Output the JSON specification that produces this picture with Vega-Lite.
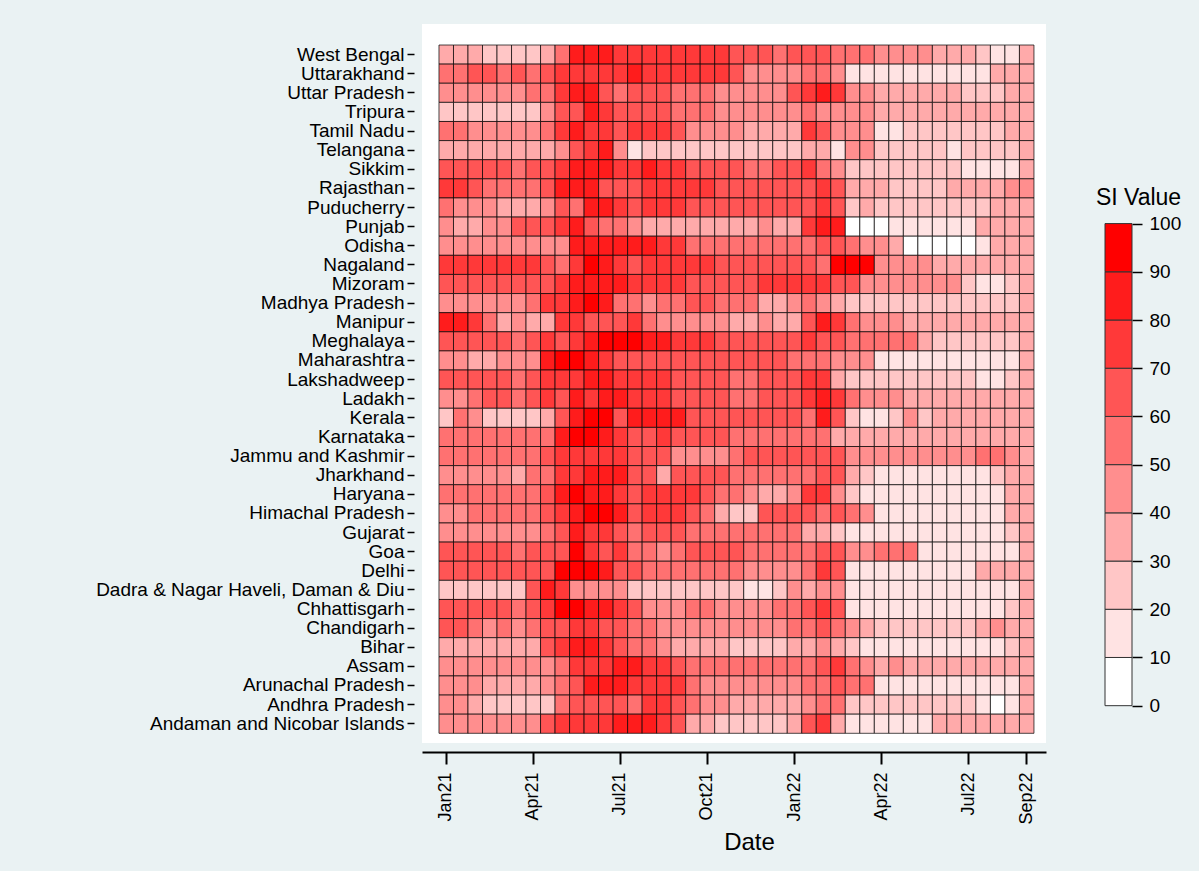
{
"$schema":"https://vega.github.io/schema/vega-lite/v6.json",
"background":"#eaf2f3",
"padding":{"left":95,"top":24,"right":18,"bottom":16},
"spacing":49,
"config":{"view":{"stroke":null},"font":"Liberation Sans","axis":{"labelColor":"#000","titleColor":"#000","tickColor":"#000","domainColor":"#000","labelFont":"Liberation Sans","titleFont":"Liberation Sans","titleFontWeight":"normal","grid":false}},
"datasets":{
"states":[{"r":0,"s":"West Bengal"},{"r":1,"s":"Uttarakhand"},{"r":2,"s":"Uttar Pradesh"},{"r":3,"s":"Tripura"},{"r":4,"s":"Tamil Nadu"},{"r":5,"s":"Telangana"},{"r":6,"s":"Sikkim"},{"r":7,"s":"Rajasthan"},{"r":8,"s":"Puducherry"},{"r":9,"s":"Punjab"},{"r":10,"s":"Odisha"},{"r":11,"s":"Nagaland"},{"r":12,"s":"Mizoram"},{"r":13,"s":"Madhya Pradesh"},{"r":14,"s":"Manipur"},{"r":15,"s":"Meghalaya"},{"r":16,"s":"Maharashtra"},{"r":17,"s":"Lakshadweep"},{"r":18,"s":"Ladakh"},{"r":19,"s":"Kerala"},{"r":20,"s":"Karnataka"},{"r":21,"s":"Jammu and Kashmir"},{"r":22,"s":"Jharkhand"},{"r":23,"s":"Haryana"},{"r":24,"s":"Himachal Pradesh"},{"r":25,"s":"Gujarat"},{"r":26,"s":"Goa"},{"r":27,"s":"Delhi"},{"r":28,"s":"Dadra & Nagar Haveli, Daman & Diu"},{"r":29,"s":"Chhattisgarh"},{"r":30,"s":"Chandigarh"},{"r":31,"s":"Bihar"},{"r":32,"s":"Assam"},{"r":33,"s":"Arunachal Pradesh"},{"r":34,"s":"Andhra Pradesh"},{"r":35,"s":"Andaman and Nicobar Islands"}],
"dates":[{"i":0,"d":"2021-01-01"},{"i":1,"d":"2021-01-16"},{"i":2,"d":"2021-02-01"},{"i":3,"d":"2021-02-16"},{"i":4,"d":"2021-03-01"},{"i":5,"d":"2021-03-16"},{"i":6,"d":"2021-04-01"},{"i":7,"d":"2021-04-16"},{"i":8,"d":"2021-05-01"},{"i":9,"d":"2021-05-16"},{"i":10,"d":"2021-06-01"},{"i":11,"d":"2021-06-16"},{"i":12,"d":"2021-07-01"},{"i":13,"d":"2021-07-16"},{"i":14,"d":"2021-08-01"},{"i":15,"d":"2021-08-16"},{"i":16,"d":"2021-09-01"},{"i":17,"d":"2021-09-16"},{"i":18,"d":"2021-10-01"},{"i":19,"d":"2021-10-16"},{"i":20,"d":"2021-11-01"},{"i":21,"d":"2021-11-16"},{"i":22,"d":"2021-12-01"},{"i":23,"d":"2021-12-16"},{"i":24,"d":"2022-01-01"},{"i":25,"d":"2022-01-16"},{"i":26,"d":"2022-02-01"},{"i":27,"d":"2022-02-16"},{"i":28,"d":"2022-03-01"},{"i":29,"d":"2022-03-16"},{"i":30,"d":"2022-04-01"},{"i":31,"d":"2022-04-16"},{"i":32,"d":"2022-05-01"},{"i":33,"d":"2022-05-16"},{"i":34,"d":"2022-06-01"},{"i":35,"d":"2022-06-16"},{"i":36,"d":"2022-07-01"},{"i":37,"d":"2022-07-16"},{"i":38,"d":"2022-08-01"},{"i":39,"d":"2022-08-16"},{"i":40,"d":"2022-09-01"}],
"bins":[{"lo":0,"hi":10,"v":5},{"lo":10,"hi":20,"v":15},{"lo":20,"hi":30,"v":25},{"lo":30,"hi":40,"v":35},{"lo":40,"hi":50,"v":45},{"lo":50,"hi":60,"v":55},{"lo":60,"hi":70,"v":65},{"lo":70,"hi":80,"v":75},{"lo":80,"hi":90,"v":85},{"lo":90,"hi":100,"v":95}],
"cells":[
{"r":0,"i":0,"v":35},{"r":0,"i":1,"v":35},{"r":0,"i":2,"v":35},{"r":0,"i":3,"v":25},{"r":0,"i":4,"v":25},{"r":0,"i":5,"v":25},{"r":0,"i":6,"v":25},{"r":0,"i":7,"v":35},{"r":0,"i":8,"v":55},{"r":0,"i":9,"v":85},{"r":0,"i":10,"v":85},{"r":0,"i":11,"v":85},{"r":0,"i":12,"v":75},{"r":0,"i":13,"v":75},{"r":0,"i":14,"v":75},{"r":0,"i":15,"v":75},{"r":0,"i":16,"v":75},{"r":0,"i":17,"v":75},{"r":0,"i":18,"v":75},{"r":0,"i":19,"v":75},{"r":0,"i":20,"v":65},{"r":0,"i":21,"v":65},{"r":0,"i":22,"v":65},{"r":0,"i":23,"v":55},{"r":0,"i":24,"v":65},{"r":0,"i":25,"v":65},{"r":0,"i":26,"v":65},{"r":0,"i":27,"v":55},{"r":0,"i":28,"v":55},{"r":0,"i":29,"v":55},{"r":0,"i":30,"v":45},{"r":0,"i":31,"v":45},{"r":0,"i":32,"v":45},{"r":0,"i":33,"v":45},{"r":0,"i":34,"v":35},{"r":0,"i":35,"v":35},{"r":0,"i":36,"v":35},{"r":0,"i":37,"v":25},{"r":0,"i":38,"v":15},{"r":0,"i":39,"v":15},{"r":0,"i":40,"v":35},
{"r":1,"i":0,"v":55},{"r":1,"i":1,"v":55},{"r":1,"i":2,"v":65},{"r":1,"i":3,"v":65},{"r":1,"i":4,"v":55},{"r":1,"i":5,"v":65},{"r":1,"i":6,"v":55},{"r":1,"i":7,"v":65},{"r":1,"i":8,"v":75},{"r":1,"i":9,"v":75},{"r":1,"i":10,"v":75},{"r":1,"i":11,"v":75},{"r":1,"i":12,"v":75},{"r":1,"i":13,"v":85},{"r":1,"i":14,"v":75},{"r":1,"i":15,"v":75},{"r":1,"i":16,"v":75},{"r":1,"i":17,"v":75},{"r":1,"i":18,"v":75},{"r":1,"i":19,"v":75},{"r":1,"i":20,"v":65},{"r":1,"i":21,"v":45},{"r":1,"i":22,"v":45},{"r":1,"i":23,"v":45},{"r":1,"i":24,"v":45},{"r":1,"i":25,"v":55},{"r":1,"i":26,"v":55},{"r":1,"i":27,"v":45},{"r":1,"i":28,"v":15},{"r":1,"i":29,"v":15},{"r":1,"i":30,"v":15},{"r":1,"i":31,"v":15},{"r":1,"i":32,"v":15},{"r":1,"i":33,"v":15},{"r":1,"i":34,"v":15},{"r":1,"i":35,"v":15},{"r":1,"i":36,"v":15},{"r":1,"i":37,"v":15},{"r":1,"i":38,"v":35},{"r":1,"i":39,"v":35},{"r":1,"i":40,"v":35},
{"r":2,"i":0,"v":45},{"r":2,"i":1,"v":45},{"r":2,"i":2,"v":45},{"r":2,"i":3,"v":45},{"r":2,"i":4,"v":45},{"r":2,"i":5,"v":45},{"r":2,"i":6,"v":55},{"r":2,"i":7,"v":55},{"r":2,"i":8,"v":75},{"r":2,"i":9,"v":85},{"r":2,"i":10,"v":85},{"r":2,"i":11,"v":65},{"r":2,"i":12,"v":55},{"r":2,"i":13,"v":65},{"r":2,"i":14,"v":65},{"r":2,"i":15,"v":65},{"r":2,"i":16,"v":55},{"r":2,"i":17,"v":55},{"r":2,"i":18,"v":55},{"r":2,"i":19,"v":45},{"r":2,"i":20,"v":45},{"r":2,"i":21,"v":45},{"r":2,"i":22,"v":45},{"r":2,"i":23,"v":45},{"r":2,"i":24,"v":65},{"r":2,"i":25,"v":75},{"r":2,"i":26,"v":85},{"r":2,"i":27,"v":75},{"r":2,"i":28,"v":45},{"r":2,"i":29,"v":45},{"r":2,"i":30,"v":35},{"r":2,"i":31,"v":35},{"r":2,"i":32,"v":35},{"r":2,"i":33,"v":35},{"r":2,"i":34,"v":35},{"r":2,"i":35,"v":35},{"r":2,"i":36,"v":25},{"r":2,"i":37,"v":25},{"r":2,"i":38,"v":25},{"r":2,"i":39,"v":35},{"r":2,"i":40,"v":35},
{"r":3,"i":0,"v":25},{"r":3,"i":1,"v":25},{"r":3,"i":2,"v":25},{"r":3,"i":3,"v":25},{"r":3,"i":4,"v":25},{"r":3,"i":5,"v":25},{"r":3,"i":6,"v":25},{"r":3,"i":7,"v":45},{"r":3,"i":8,"v":65},{"r":3,"i":9,"v":65},{"r":3,"i":10,"v":85},{"r":3,"i":11,"v":75},{"r":3,"i":12,"v":65},{"r":3,"i":13,"v":65},{"r":3,"i":14,"v":65},{"r":3,"i":15,"v":65},{"r":3,"i":16,"v":55},{"r":3,"i":17,"v":55},{"r":3,"i":18,"v":55},{"r":3,"i":19,"v":45},{"r":3,"i":20,"v":45},{"r":3,"i":21,"v":45},{"r":3,"i":22,"v":45},{"r":3,"i":23,"v":45},{"r":3,"i":24,"v":45},{"r":3,"i":25,"v":55},{"r":3,"i":26,"v":45},{"r":3,"i":27,"v":45},{"r":3,"i":28,"v":45},{"r":3,"i":29,"v":45},{"r":3,"i":30,"v":35},{"r":3,"i":31,"v":35},{"r":3,"i":32,"v":35},{"r":3,"i":33,"v":35},{"r":3,"i":34,"v":35},{"r":3,"i":35,"v":35},{"r":3,"i":36,"v":35},{"r":3,"i":37,"v":35},{"r":3,"i":38,"v":35},{"r":3,"i":39,"v":35},{"r":3,"i":40,"v":35},
{"r":4,"i":0,"v":55},{"r":4,"i":1,"v":55},{"r":4,"i":2,"v":45},{"r":4,"i":3,"v":45},{"r":4,"i":4,"v":45},{"r":4,"i":5,"v":45},{"r":4,"i":6,"v":45},{"r":4,"i":7,"v":55},{"r":4,"i":8,"v":75},{"r":4,"i":9,"v":85},{"r":4,"i":10,"v":75},{"r":4,"i":11,"v":75},{"r":4,"i":12,"v":65},{"r":4,"i":13,"v":75},{"r":4,"i":14,"v":75},{"r":4,"i":15,"v":75},{"r":4,"i":16,"v":65},{"r":4,"i":17,"v":45},{"r":4,"i":18,"v":45},{"r":4,"i":19,"v":45},{"r":4,"i":20,"v":45},{"r":4,"i":21,"v":35},{"r":4,"i":22,"v":35},{"r":4,"i":23,"v":35},{"r":4,"i":24,"v":35},{"r":4,"i":25,"v":75},{"r":4,"i":26,"v":65},{"r":4,"i":27,"v":45},{"r":4,"i":28,"v":45},{"r":4,"i":29,"v":45},{"r":4,"i":30,"v":15},{"r":4,"i":31,"v":15},{"r":4,"i":32,"v":25},{"r":4,"i":33,"v":25},{"r":4,"i":34,"v":25},{"r":4,"i":35,"v":25},{"r":4,"i":36,"v":25},{"r":4,"i":37,"v":25},{"r":4,"i":38,"v":25},{"r":4,"i":39,"v":35},{"r":4,"i":40,"v":35},
{"r":5,"i":0,"v":35},{"r":5,"i":1,"v":35},{"r":5,"i":2,"v":35},{"r":5,"i":3,"v":35},{"r":5,"i":4,"v":35},{"r":5,"i":5,"v":35},{"r":5,"i":6,"v":35},{"r":5,"i":7,"v":35},{"r":5,"i":8,"v":45},{"r":5,"i":9,"v":65},{"r":5,"i":10,"v":75},{"r":5,"i":11,"v":85},{"r":5,"i":12,"v":45},{"r":5,"i":13,"v":15},{"r":5,"i":14,"v":25},{"r":5,"i":15,"v":25},{"r":5,"i":16,"v":25},{"r":5,"i":17,"v":25},{"r":5,"i":18,"v":25},{"r":5,"i":19,"v":25},{"r":5,"i":20,"v":25},{"r":5,"i":21,"v":25},{"r":5,"i":22,"v":25},{"r":5,"i":23,"v":25},{"r":5,"i":24,"v":25},{"r":5,"i":25,"v":35},{"r":5,"i":26,"v":35},{"r":5,"i":27,"v":15},{"r":5,"i":28,"v":45},{"r":5,"i":29,"v":45},{"r":5,"i":30,"v":25},{"r":5,"i":31,"v":25},{"r":5,"i":32,"v":25},{"r":5,"i":33,"v":25},{"r":5,"i":34,"v":25},{"r":5,"i":35,"v":15},{"r":5,"i":36,"v":25},{"r":5,"i":37,"v":25},{"r":5,"i":38,"v":25},{"r":5,"i":39,"v":25},{"r":5,"i":40,"v":35},
{"r":6,"i":0,"v":65},{"r":6,"i":1,"v":65},{"r":6,"i":2,"v":65},{"r":6,"i":3,"v":65},{"r":6,"i":4,"v":65},{"r":6,"i":5,"v":55},{"r":6,"i":6,"v":65},{"r":6,"i":7,"v":65},{"r":6,"i":8,"v":75},{"r":6,"i":9,"v":85},{"r":6,"i":10,"v":85},{"r":6,"i":11,"v":85},{"r":6,"i":12,"v":75},{"r":6,"i":13,"v":75},{"r":6,"i":14,"v":85},{"r":6,"i":15,"v":75},{"r":6,"i":16,"v":75},{"r":6,"i":17,"v":65},{"r":6,"i":18,"v":65},{"r":6,"i":19,"v":65},{"r":6,"i":20,"v":65},{"r":6,"i":21,"v":55},{"r":6,"i":22,"v":55},{"r":6,"i":23,"v":65},{"r":6,"i":24,"v":65},{"r":6,"i":25,"v":75},{"r":6,"i":26,"v":55},{"r":6,"i":27,"v":45},{"r":6,"i":28,"v":25},{"r":6,"i":29,"v":25},{"r":6,"i":30,"v":25},{"r":6,"i":31,"v":25},{"r":6,"i":32,"v":25},{"r":6,"i":33,"v":25},{"r":6,"i":34,"v":25},{"r":6,"i":35,"v":25},{"r":6,"i":36,"v":15},{"r":6,"i":37,"v":15},{"r":6,"i":38,"v":15},{"r":6,"i":39,"v":15},{"r":6,"i":40,"v":35},
{"r":7,"i":0,"v":75},{"r":7,"i":1,"v":75},{"r":7,"i":2,"v":65},{"r":7,"i":3,"v":55},{"r":7,"i":4,"v":55},{"r":7,"i":5,"v":55},{"r":7,"i":6,"v":55},{"r":7,"i":7,"v":65},{"r":7,"i":8,"v":85},{"r":7,"i":9,"v":85},{"r":7,"i":10,"v":85},{"r":7,"i":11,"v":65},{"r":7,"i":12,"v":65},{"r":7,"i":13,"v":65},{"r":7,"i":14,"v":75},{"r":7,"i":15,"v":75},{"r":7,"i":16,"v":75},{"r":7,"i":17,"v":75},{"r":7,"i":18,"v":75},{"r":7,"i":19,"v":65},{"r":7,"i":20,"v":65},{"r":7,"i":21,"v":65},{"r":7,"i":22,"v":65},{"r":7,"i":23,"v":65},{"r":7,"i":24,"v":65},{"r":7,"i":25,"v":65},{"r":7,"i":26,"v":75},{"r":7,"i":27,"v":65},{"r":7,"i":28,"v":35},{"r":7,"i":29,"v":35},{"r":7,"i":30,"v":35},{"r":7,"i":31,"v":25},{"r":7,"i":32,"v":25},{"r":7,"i":33,"v":25},{"r":7,"i":34,"v":25},{"r":7,"i":35,"v":35},{"r":7,"i":36,"v":35},{"r":7,"i":37,"v":35},{"r":7,"i":38,"v":35},{"r":7,"i":39,"v":45},{"r":7,"i":40,"v":45},
{"r":8,"i":0,"v":55},{"r":8,"i":1,"v":45},{"r":8,"i":2,"v":45},{"r":8,"i":3,"v":45},{"r":8,"i":4,"v":35},{"r":8,"i":5,"v":35},{"r":8,"i":6,"v":35},{"r":8,"i":7,"v":45},{"r":8,"i":8,"v":65},{"r":8,"i":9,"v":55},{"r":8,"i":10,"v":85},{"r":8,"i":11,"v":85},{"r":8,"i":12,"v":75},{"r":8,"i":13,"v":65},{"r":8,"i":14,"v":75},{"r":8,"i":15,"v":75},{"r":8,"i":16,"v":75},{"r":8,"i":17,"v":65},{"r":8,"i":18,"v":65},{"r":8,"i":19,"v":65},{"r":8,"i":20,"v":65},{"r":8,"i":21,"v":65},{"r":8,"i":22,"v":65},{"r":8,"i":23,"v":65},{"r":8,"i":24,"v":65},{"r":8,"i":25,"v":65},{"r":8,"i":26,"v":75},{"r":8,"i":27,"v":65},{"r":8,"i":28,"v":25},{"r":8,"i":29,"v":35},{"r":8,"i":30,"v":25},{"r":8,"i":31,"v":25},{"r":8,"i":32,"v":25},{"r":8,"i":33,"v":25},{"r":8,"i":34,"v":25},{"r":8,"i":35,"v":25},{"r":8,"i":36,"v":25},{"r":8,"i":37,"v":25},{"r":8,"i":38,"v":35},{"r":8,"i":39,"v":35},{"r":8,"i":40,"v":35},
{"r":9,"i":0,"v":45},{"r":9,"i":1,"v":35},{"r":9,"i":2,"v":35},{"r":9,"i":3,"v":45},{"r":9,"i":4,"v":45},{"r":9,"i":5,"v":65},{"r":9,"i":6,"v":65},{"r":9,"i":7,"v":65},{"r":9,"i":8,"v":75},{"r":9,"i":9,"v":85},{"r":9,"i":10,"v":65},{"r":9,"i":11,"v":55},{"r":9,"i":12,"v":55},{"r":9,"i":13,"v":45},{"r":9,"i":14,"v":35},{"r":9,"i":15,"v":35},{"r":9,"i":16,"v":35},{"r":9,"i":17,"v":35},{"r":9,"i":18,"v":35},{"r":9,"i":19,"v":35},{"r":9,"i":20,"v":35},{"r":9,"i":21,"v":35},{"r":9,"i":22,"v":45},{"r":9,"i":23,"v":35},{"r":9,"i":24,"v":35},{"r":9,"i":25,"v":75},{"r":9,"i":26,"v":85},{"r":9,"i":27,"v":85},{"r":9,"i":28,"v":5},{"r":9,"i":29,"v":5},{"r":9,"i":30,"v":5},{"r":9,"i":31,"v":15},{"r":9,"i":32,"v":15},{"r":9,"i":33,"v":15},{"r":9,"i":34,"v":15},{"r":9,"i":35,"v":15},{"r":9,"i":36,"v":15},{"r":9,"i":37,"v":35},{"r":9,"i":38,"v":35},{"r":9,"i":39,"v":35},{"r":9,"i":40,"v":35},
{"r":10,"i":0,"v":45},{"r":10,"i":1,"v":45},{"r":10,"i":2,"v":45},{"r":10,"i":3,"v":45},{"r":10,"i":4,"v":45},{"r":10,"i":5,"v":45},{"r":10,"i":6,"v":45},{"r":10,"i":7,"v":45},{"r":10,"i":8,"v":45},{"r":10,"i":9,"v":85},{"r":10,"i":10,"v":85},{"r":10,"i":11,"v":85},{"r":10,"i":12,"v":85},{"r":10,"i":13,"v":85},{"r":10,"i":14,"v":85},{"r":10,"i":15,"v":75},{"r":10,"i":16,"v":75},{"r":10,"i":17,"v":55},{"r":10,"i":18,"v":55},{"r":10,"i":19,"v":55},{"r":10,"i":20,"v":55},{"r":10,"i":21,"v":55},{"r":10,"i":22,"v":55},{"r":10,"i":23,"v":55},{"r":10,"i":24,"v":55},{"r":10,"i":25,"v":55},{"r":10,"i":26,"v":65},{"r":10,"i":27,"v":65},{"r":10,"i":28,"v":55},{"r":10,"i":29,"v":45},{"r":10,"i":30,"v":45},{"r":10,"i":31,"v":35},{"r":10,"i":32,"v":5},{"r":10,"i":33,"v":5},{"r":10,"i":34,"v":5},{"r":10,"i":35,"v":5},{"r":10,"i":36,"v":5},{"r":10,"i":37,"v":15},{"r":10,"i":38,"v":35},{"r":10,"i":39,"v":35},{"r":10,"i":40,"v":35},
{"r":11,"i":0,"v":75},{"r":11,"i":1,"v":75},{"r":11,"i":2,"v":75},{"r":11,"i":3,"v":75},{"r":11,"i":4,"v":75},{"r":11,"i":5,"v":75},{"r":11,"i":6,"v":75},{"r":11,"i":7,"v":65},{"r":11,"i":8,"v":55},{"r":11,"i":9,"v":75},{"r":11,"i":10,"v":95},{"r":11,"i":11,"v":85},{"r":11,"i":12,"v":75},{"r":11,"i":13,"v":65},{"r":11,"i":14,"v":75},{"r":11,"i":15,"v":75},{"r":11,"i":16,"v":75},{"r":11,"i":17,"v":75},{"r":11,"i":18,"v":75},{"r":11,"i":19,"v":65},{"r":11,"i":20,"v":65},{"r":11,"i":21,"v":65},{"r":11,"i":22,"v":65},{"r":11,"i":23,"v":65},{"r":11,"i":24,"v":65},{"r":11,"i":25,"v":65},{"r":11,"i":26,"v":55},{"r":11,"i":27,"v":95},{"r":11,"i":28,"v":95},{"r":11,"i":29,"v":95},{"r":11,"i":30,"v":45},{"r":11,"i":31,"v":45},{"r":11,"i":32,"v":45},{"r":11,"i":33,"v":45},{"r":11,"i":34,"v":35},{"r":11,"i":35,"v":35},{"r":11,"i":36,"v":35},{"r":11,"i":37,"v":35},{"r":11,"i":38,"v":35},{"r":11,"i":39,"v":35},{"r":11,"i":40,"v":35},
{"r":12,"i":0,"v":65},{"r":12,"i":1,"v":65},{"r":12,"i":2,"v":65},{"r":12,"i":3,"v":65},{"r":12,"i":4,"v":65},{"r":12,"i":5,"v":65},{"r":12,"i":6,"v":65},{"r":12,"i":7,"v":65},{"r":12,"i":8,"v":75},{"r":12,"i":9,"v":85},{"r":12,"i":10,"v":85},{"r":12,"i":11,"v":85},{"r":12,"i":12,"v":85},{"r":12,"i":13,"v":75},{"r":12,"i":14,"v":75},{"r":12,"i":15,"v":75},{"r":12,"i":16,"v":75},{"r":12,"i":17,"v":65},{"r":12,"i":18,"v":65},{"r":12,"i":19,"v":65},{"r":12,"i":20,"v":65},{"r":12,"i":21,"v":65},{"r":12,"i":22,"v":75},{"r":12,"i":23,"v":75},{"r":12,"i":24,"v":75},{"r":12,"i":25,"v":75},{"r":12,"i":26,"v":75},{"r":12,"i":27,"v":65},{"r":12,"i":28,"v":65},{"r":12,"i":29,"v":45},{"r":12,"i":30,"v":45},{"r":12,"i":31,"v":45},{"r":12,"i":32,"v":45},{"r":12,"i":33,"v":45},{"r":12,"i":34,"v":45},{"r":12,"i":35,"v":45},{"r":12,"i":36,"v":25},{"r":12,"i":37,"v":15},{"r":12,"i":38,"v":15},{"r":12,"i":39,"v":25},{"r":12,"i":40,"v":35},
{"r":13,"i":0,"v":45},{"r":13,"i":1,"v":45},{"r":13,"i":2,"v":45},{"r":13,"i":3,"v":45},{"r":13,"i":4,"v":45},{"r":13,"i":5,"v":45},{"r":13,"i":6,"v":55},{"r":13,"i":7,"v":75},{"r":13,"i":8,"v":75},{"r":13,"i":9,"v":85},{"r":13,"i":10,"v":95},{"r":13,"i":11,"v":85},{"r":13,"i":12,"v":55},{"r":13,"i":13,"v":55},{"r":13,"i":14,"v":45},{"r":13,"i":15,"v":55},{"r":13,"i":16,"v":55},{"r":13,"i":17,"v":65},{"r":13,"i":18,"v":65},{"r":13,"i":19,"v":55},{"r":13,"i":20,"v":55},{"r":13,"i":21,"v":55},{"r":13,"i":22,"v":35},{"r":13,"i":23,"v":35},{"r":13,"i":24,"v":45},{"r":13,"i":25,"v":55},{"r":13,"i":26,"v":45},{"r":13,"i":27,"v":35},{"r":13,"i":28,"v":25},{"r":13,"i":29,"v":25},{"r":13,"i":30,"v":25},{"r":13,"i":31,"v":25},{"r":13,"i":32,"v":25},{"r":13,"i":33,"v":25},{"r":13,"i":34,"v":25},{"r":13,"i":35,"v":25},{"r":13,"i":36,"v":25},{"r":13,"i":37,"v":25},{"r":13,"i":38,"v":25},{"r":13,"i":39,"v":25},{"r":13,"i":40,"v":35},
{"r":14,"i":0,"v":85},{"r":14,"i":1,"v":85},{"r":14,"i":2,"v":75},{"r":14,"i":3,"v":55},{"r":14,"i":4,"v":35},{"r":14,"i":5,"v":45},{"r":14,"i":6,"v":35},{"r":14,"i":7,"v":35},{"r":14,"i":8,"v":75},{"r":14,"i":9,"v":75},{"r":14,"i":10,"v":65},{"r":14,"i":11,"v":65},{"r":14,"i":12,"v":65},{"r":14,"i":13,"v":75},{"r":14,"i":14,"v":55},{"r":14,"i":15,"v":45},{"r":14,"i":16,"v":45},{"r":14,"i":17,"v":45},{"r":14,"i":18,"v":45},{"r":14,"i":19,"v":45},{"r":14,"i":20,"v":35},{"r":14,"i":21,"v":35},{"r":14,"i":22,"v":45},{"r":14,"i":23,"v":35},{"r":14,"i":24,"v":35},{"r":14,"i":25,"v":65},{"r":14,"i":26,"v":85},{"r":14,"i":27,"v":75},{"r":14,"i":28,"v":55},{"r":14,"i":29,"v":45},{"r":14,"i":30,"v":45},{"r":14,"i":31,"v":45},{"r":14,"i":32,"v":35},{"r":14,"i":33,"v":35},{"r":14,"i":34,"v":35},{"r":14,"i":35,"v":35},{"r":14,"i":36,"v":35},{"r":14,"i":37,"v":35},{"r":14,"i":38,"v":35},{"r":14,"i":39,"v":35},{"r":14,"i":40,"v":35},
{"r":15,"i":0,"v":65},{"r":15,"i":1,"v":65},{"r":15,"i":2,"v":65},{"r":15,"i":3,"v":65},{"r":15,"i":4,"v":65},{"r":15,"i":5,"v":55},{"r":15,"i":6,"v":65},{"r":15,"i":7,"v":75},{"r":15,"i":8,"v":65},{"r":15,"i":9,"v":75},{"r":15,"i":10,"v":85},{"r":15,"i":11,"v":95},{"r":15,"i":12,"v":95},{"r":15,"i":13,"v":95},{"r":15,"i":14,"v":85},{"r":15,"i":15,"v":85},{"r":15,"i":16,"v":75},{"r":15,"i":17,"v":75},{"r":15,"i":18,"v":75},{"r":15,"i":19,"v":65},{"r":15,"i":20,"v":65},{"r":15,"i":21,"v":65},{"r":15,"i":22,"v":65},{"r":15,"i":23,"v":65},{"r":15,"i":24,"v":65},{"r":15,"i":25,"v":75},{"r":15,"i":26,"v":65},{"r":15,"i":27,"v":65},{"r":15,"i":28,"v":55},{"r":15,"i":29,"v":55},{"r":15,"i":30,"v":55},{"r":15,"i":31,"v":55},{"r":15,"i":32,"v":55},{"r":15,"i":33,"v":35},{"r":15,"i":34,"v":25},{"r":15,"i":35,"v":25},{"r":15,"i":36,"v":25},{"r":15,"i":37,"v":25},{"r":15,"i":38,"v":25},{"r":15,"i":39,"v":25},{"r":15,"i":40,"v":35},
{"r":16,"i":0,"v":45},{"r":16,"i":1,"v":45},{"r":16,"i":2,"v":35},{"r":16,"i":3,"v":35},{"r":16,"i":4,"v":45},{"r":16,"i":5,"v":45},{"r":16,"i":6,"v":45},{"r":16,"i":7,"v":85},{"r":16,"i":8,"v":95},{"r":16,"i":9,"v":95},{"r":16,"i":10,"v":85},{"r":16,"i":11,"v":75},{"r":16,"i":12,"v":65},{"r":16,"i":13,"v":65},{"r":16,"i":14,"v":65},{"r":16,"i":15,"v":65},{"r":16,"i":16,"v":65},{"r":16,"i":17,"v":65},{"r":16,"i":18,"v":65},{"r":16,"i":19,"v":65},{"r":16,"i":20,"v":65},{"r":16,"i":21,"v":65},{"r":16,"i":22,"v":65},{"r":16,"i":23,"v":65},{"r":16,"i":24,"v":55},{"r":16,"i":25,"v":55},{"r":16,"i":26,"v":55},{"r":16,"i":27,"v":45},{"r":16,"i":28,"v":45},{"r":16,"i":29,"v":45},{"r":16,"i":30,"v":15},{"r":16,"i":31,"v":15},{"r":16,"i":32,"v":15},{"r":16,"i":33,"v":15},{"r":16,"i":34,"v":15},{"r":16,"i":35,"v":15},{"r":16,"i":36,"v":15},{"r":16,"i":37,"v":15},{"r":16,"i":38,"v":15},{"r":16,"i":39,"v":15},{"r":16,"i":40,"v":35},
{"r":17,"i":0,"v":65},{"r":17,"i":1,"v":65},{"r":17,"i":2,"v":65},{"r":17,"i":3,"v":65},{"r":17,"i":4,"v":65},{"r":17,"i":5,"v":55},{"r":17,"i":6,"v":65},{"r":17,"i":7,"v":75},{"r":17,"i":8,"v":75},{"r":17,"i":9,"v":75},{"r":17,"i":10,"v":85},{"r":17,"i":11,"v":85},{"r":17,"i":12,"v":75},{"r":17,"i":13,"v":75},{"r":17,"i":14,"v":75},{"r":17,"i":15,"v":75},{"r":17,"i":16,"v":65},{"r":17,"i":17,"v":65},{"r":17,"i":18,"v":65},{"r":17,"i":19,"v":65},{"r":17,"i":20,"v":55},{"r":17,"i":21,"v":55},{"r":17,"i":22,"v":65},{"r":17,"i":23,"v":65},{"r":17,"i":24,"v":65},{"r":17,"i":25,"v":75},{"r":17,"i":26,"v":75},{"r":17,"i":27,"v":35},{"r":17,"i":28,"v":25},{"r":17,"i":29,"v":25},{"r":17,"i":30,"v":25},{"r":17,"i":31,"v":25},{"r":17,"i":32,"v":25},{"r":17,"i":33,"v":25},{"r":17,"i":34,"v":25},{"r":17,"i":35,"v":25},{"r":17,"i":36,"v":25},{"r":17,"i":37,"v":15},{"r":17,"i":38,"v":15},{"r":17,"i":39,"v":25},{"r":17,"i":40,"v":35},
{"r":18,"i":0,"v":45},{"r":18,"i":1,"v":45},{"r":18,"i":2,"v":55},{"r":18,"i":3,"v":65},{"r":18,"i":4,"v":65},{"r":18,"i":5,"v":55},{"r":18,"i":6,"v":65},{"r":18,"i":7,"v":75},{"r":18,"i":8,"v":65},{"r":18,"i":9,"v":85},{"r":18,"i":10,"v":75},{"r":18,"i":11,"v":85},{"r":18,"i":12,"v":85},{"r":18,"i":13,"v":75},{"r":18,"i":14,"v":75},{"r":18,"i":15,"v":75},{"r":18,"i":16,"v":65},{"r":18,"i":17,"v":65},{"r":18,"i":18,"v":65},{"r":18,"i":19,"v":65},{"r":18,"i":20,"v":55},{"r":18,"i":21,"v":55},{"r":18,"i":22,"v":65},{"r":18,"i":23,"v":65},{"r":18,"i":24,"v":65},{"r":18,"i":25,"v":75},{"r":18,"i":26,"v":85},{"r":18,"i":27,"v":75},{"r":18,"i":28,"v":55},{"r":18,"i":29,"v":45},{"r":18,"i":30,"v":45},{"r":18,"i":31,"v":45},{"r":18,"i":32,"v":35},{"r":18,"i":33,"v":35},{"r":18,"i":34,"v":35},{"r":18,"i":35,"v":35},{"r":18,"i":36,"v":35},{"r":18,"i":37,"v":35},{"r":18,"i":38,"v":35},{"r":18,"i":39,"v":35},{"r":18,"i":40,"v":35},
{"r":19,"i":0,"v":25},{"r":19,"i":1,"v":55},{"r":19,"i":2,"v":45},{"r":19,"i":3,"v":25},{"r":19,"i":4,"v":25},{"r":19,"i":5,"v":25},{"r":19,"i":6,"v":25},{"r":19,"i":7,"v":35},{"r":19,"i":8,"v":65},{"r":19,"i":9,"v":85},{"r":19,"i":10,"v":95},{"r":19,"i":11,"v":95},{"r":19,"i":12,"v":65},{"r":19,"i":13,"v":85},{"r":19,"i":14,"v":85},{"r":19,"i":15,"v":85},{"r":19,"i":16,"v":85},{"r":19,"i":17,"v":65},{"r":19,"i":18,"v":65},{"r":19,"i":19,"v":65},{"r":19,"i":20,"v":65},{"r":19,"i":21,"v":65},{"r":19,"i":22,"v":65},{"r":19,"i":23,"v":65},{"r":19,"i":24,"v":65},{"r":19,"i":25,"v":55},{"r":19,"i":26,"v":85},{"r":19,"i":27,"v":65},{"r":19,"i":28,"v":25},{"r":19,"i":29,"v":15},{"r":19,"i":30,"v":15},{"r":19,"i":31,"v":25},{"r":19,"i":32,"v":45},{"r":19,"i":33,"v":25},{"r":19,"i":34,"v":35},{"r":19,"i":35,"v":35},{"r":19,"i":36,"v":35},{"r":19,"i":37,"v":35},{"r":19,"i":38,"v":35},{"r":19,"i":39,"v":35},{"r":19,"i":40,"v":35},
{"r":20,"i":0,"v":55},{"r":20,"i":1,"v":55},{"r":20,"i":2,"v":55},{"r":20,"i":3,"v":55},{"r":20,"i":4,"v":55},{"r":20,"i":5,"v":55},{"r":20,"i":6,"v":55},{"r":20,"i":7,"v":55},{"r":20,"i":8,"v":85},{"r":20,"i":9,"v":95},{"r":20,"i":10,"v":95},{"r":20,"i":11,"v":85},{"r":20,"i":12,"v":75},{"r":20,"i":13,"v":65},{"r":20,"i":14,"v":65},{"r":20,"i":15,"v":75},{"r":20,"i":16,"v":65},{"r":20,"i":17,"v":65},{"r":20,"i":18,"v":65},{"r":20,"i":19,"v":65},{"r":20,"i":20,"v":55},{"r":20,"i":21,"v":55},{"r":20,"i":22,"v":55},{"r":20,"i":23,"v":55},{"r":20,"i":24,"v":55},{"r":20,"i":25,"v":55},{"r":20,"i":26,"v":55},{"r":20,"i":27,"v":35},{"r":20,"i":28,"v":35},{"r":20,"i":29,"v":35},{"r":20,"i":30,"v":35},{"r":20,"i":31,"v":35},{"r":20,"i":32,"v":35},{"r":20,"i":33,"v":35},{"r":20,"i":34,"v":35},{"r":20,"i":35,"v":35},{"r":20,"i":36,"v":35},{"r":20,"i":37,"v":35},{"r":20,"i":38,"v":35},{"r":20,"i":39,"v":35},{"r":20,"i":40,"v":35},
{"r":21,"i":0,"v":55},{"r":21,"i":1,"v":55},{"r":21,"i":2,"v":55},{"r":21,"i":3,"v":55},{"r":21,"i":4,"v":55},{"r":21,"i":5,"v":55},{"r":21,"i":6,"v":55},{"r":21,"i":7,"v":65},{"r":21,"i":8,"v":75},{"r":21,"i":9,"v":75},{"r":21,"i":10,"v":75},{"r":21,"i":11,"v":75},{"r":21,"i":12,"v":75},{"r":21,"i":13,"v":65},{"r":21,"i":14,"v":65},{"r":21,"i":15,"v":65},{"r":21,"i":16,"v":45},{"r":21,"i":17,"v":45},{"r":21,"i":18,"v":45},{"r":21,"i":19,"v":45},{"r":21,"i":20,"v":55},{"r":21,"i":21,"v":65},{"r":21,"i":22,"v":65},{"r":21,"i":23,"v":65},{"r":21,"i":24,"v":65},{"r":21,"i":25,"v":65},{"r":21,"i":26,"v":65},{"r":21,"i":27,"v":65},{"r":21,"i":28,"v":45},{"r":21,"i":29,"v":45},{"r":21,"i":30,"v":45},{"r":21,"i":31,"v":45},{"r":21,"i":32,"v":45},{"r":21,"i":33,"v":45},{"r":21,"i":34,"v":45},{"r":21,"i":35,"v":45},{"r":21,"i":36,"v":45},{"r":21,"i":37,"v":55},{"r":21,"i":38,"v":55},{"r":21,"i":39,"v":45},{"r":21,"i":40,"v":35},
{"r":22,"i":0,"v":45},{"r":22,"i":1,"v":45},{"r":22,"i":2,"v":45},{"r":22,"i":3,"v":45},{"r":22,"i":4,"v":45},{"r":22,"i":5,"v":35},{"r":22,"i":6,"v":55},{"r":22,"i":7,"v":55},{"r":22,"i":8,"v":75},{"r":22,"i":9,"v":75},{"r":22,"i":10,"v":85},{"r":22,"i":11,"v":85},{"r":22,"i":12,"v":85},{"r":22,"i":13,"v":65},{"r":22,"i":14,"v":65},{"r":22,"i":15,"v":35},{"r":22,"i":16,"v":65},{"r":22,"i":17,"v":65},{"r":22,"i":18,"v":65},{"r":22,"i":19,"v":65},{"r":22,"i":20,"v":55},{"r":22,"i":21,"v":55},{"r":22,"i":22,"v":55},{"r":22,"i":23,"v":55},{"r":22,"i":24,"v":55},{"r":22,"i":25,"v":55},{"r":22,"i":26,"v":65},{"r":22,"i":27,"v":65},{"r":22,"i":28,"v":35},{"r":22,"i":29,"v":25},{"r":22,"i":30,"v":15},{"r":22,"i":31,"v":15},{"r":22,"i":32,"v":15},{"r":22,"i":33,"v":15},{"r":22,"i":34,"v":15},{"r":22,"i":35,"v":15},{"r":22,"i":36,"v":15},{"r":22,"i":37,"v":15},{"r":22,"i":38,"v":25},{"r":22,"i":39,"v":35},{"r":22,"i":40,"v":35},
{"r":23,"i":0,"v":55},{"r":23,"i":1,"v":55},{"r":23,"i":2,"v":55},{"r":23,"i":3,"v":55},{"r":23,"i":4,"v":55},{"r":23,"i":5,"v":55},{"r":23,"i":6,"v":55},{"r":23,"i":7,"v":65},{"r":23,"i":8,"v":85},{"r":23,"i":9,"v":95},{"r":23,"i":10,"v":85},{"r":23,"i":11,"v":85},{"r":23,"i":12,"v":75},{"r":23,"i":13,"v":65},{"r":23,"i":14,"v":75},{"r":23,"i":15,"v":75},{"r":23,"i":16,"v":75},{"r":23,"i":17,"v":75},{"r":23,"i":18,"v":65},{"r":23,"i":19,"v":55},{"r":23,"i":20,"v":55},{"r":23,"i":21,"v":45},{"r":23,"i":22,"v":35},{"r":23,"i":23,"v":35},{"r":23,"i":24,"v":45},{"r":23,"i":25,"v":75},{"r":23,"i":26,"v":75},{"r":23,"i":27,"v":45},{"r":23,"i":28,"v":25},{"r":23,"i":29,"v":15},{"r":23,"i":30,"v":15},{"r":23,"i":31,"v":15},{"r":23,"i":32,"v":15},{"r":23,"i":33,"v":15},{"r":23,"i":34,"v":15},{"r":23,"i":35,"v":15},{"r":23,"i":36,"v":15},{"r":23,"i":37,"v":15},{"r":23,"i":38,"v":15},{"r":23,"i":39,"v":35},{"r":23,"i":40,"v":35},
{"r":24,"i":0,"v":45},{"r":24,"i":1,"v":45},{"r":24,"i":2,"v":55},{"r":24,"i":3,"v":55},{"r":24,"i":4,"v":55},{"r":24,"i":5,"v":55},{"r":24,"i":6,"v":55},{"r":24,"i":7,"v":65},{"r":24,"i":8,"v":75},{"r":24,"i":9,"v":85},{"r":24,"i":10,"v":95},{"r":24,"i":11,"v":95},{"r":24,"i":12,"v":85},{"r":24,"i":13,"v":65},{"r":24,"i":14,"v":75},{"r":24,"i":15,"v":75},{"r":24,"i":16,"v":75},{"r":24,"i":17,"v":65},{"r":24,"i":18,"v":55},{"r":24,"i":19,"v":35},{"r":24,"i":20,"v":25},{"r":24,"i":21,"v":25},{"r":24,"i":22,"v":65},{"r":24,"i":23,"v":65},{"r":24,"i":24,"v":65},{"r":24,"i":25,"v":65},{"r":24,"i":26,"v":55},{"r":24,"i":27,"v":65},{"r":24,"i":28,"v":55},{"r":24,"i":29,"v":45},{"r":24,"i":30,"v":15},{"r":24,"i":31,"v":15},{"r":24,"i":32,"v":15},{"r":24,"i":33,"v":15},{"r":24,"i":34,"v":15},{"r":24,"i":35,"v":15},{"r":24,"i":36,"v":15},{"r":24,"i":37,"v":15},{"r":24,"i":38,"v":15},{"r":24,"i":39,"v":35},{"r":24,"i":40,"v":35},
{"r":25,"i":0,"v":45},{"r":25,"i":1,"v":45},{"r":25,"i":2,"v":45},{"r":25,"i":3,"v":45},{"r":25,"i":4,"v":45},{"r":25,"i":5,"v":45},{"r":25,"i":6,"v":45},{"r":25,"i":7,"v":55},{"r":25,"i":8,"v":65},{"r":25,"i":9,"v":85},{"r":25,"i":10,"v":75},{"r":25,"i":11,"v":75},{"r":25,"i":12,"v":65},{"r":25,"i":13,"v":55},{"r":25,"i":14,"v":65},{"r":25,"i":15,"v":65},{"r":25,"i":16,"v":65},{"r":25,"i":17,"v":55},{"r":25,"i":18,"v":55},{"r":25,"i":19,"v":55},{"r":25,"i":20,"v":55},{"r":25,"i":21,"v":55},{"r":25,"i":22,"v":55},{"r":25,"i":23,"v":55},{"r":25,"i":24,"v":55},{"r":25,"i":25,"v":35},{"r":25,"i":26,"v":35},{"r":25,"i":27,"v":25},{"r":25,"i":28,"v":15},{"r":25,"i":29,"v":15},{"r":25,"i":30,"v":15},{"r":25,"i":31,"v":15},{"r":25,"i":32,"v":15},{"r":25,"i":33,"v":15},{"r":25,"i":34,"v":15},{"r":25,"i":35,"v":15},{"r":25,"i":36,"v":15},{"r":25,"i":37,"v":15},{"r":25,"i":38,"v":15},{"r":25,"i":39,"v":25},{"r":25,"i":40,"v":35},
{"r":26,"i":0,"v":65},{"r":26,"i":1,"v":65},{"r":26,"i":2,"v":65},{"r":26,"i":3,"v":65},{"r":26,"i":4,"v":65},{"r":26,"i":5,"v":55},{"r":26,"i":6,"v":65},{"r":26,"i":7,"v":65},{"r":26,"i":8,"v":65},{"r":26,"i":9,"v":95},{"r":26,"i":10,"v":75},{"r":26,"i":11,"v":65},{"r":26,"i":12,"v":75},{"r":26,"i":13,"v":55},{"r":26,"i":14,"v":55},{"r":26,"i":15,"v":45},{"r":26,"i":16,"v":55},{"r":26,"i":17,"v":65},{"r":26,"i":18,"v":65},{"r":26,"i":19,"v":65},{"r":26,"i":20,"v":65},{"r":26,"i":21,"v":55},{"r":26,"i":22,"v":55},{"r":26,"i":23,"v":55},{"r":26,"i":24,"v":55},{"r":26,"i":25,"v":55},{"r":26,"i":26,"v":65},{"r":26,"i":27,"v":65},{"r":26,"i":28,"v":45},{"r":26,"i":29,"v":45},{"r":26,"i":30,"v":55},{"r":26,"i":31,"v":55},{"r":26,"i":32,"v":55},{"r":26,"i":33,"v":15},{"r":26,"i":34,"v":15},{"r":26,"i":35,"v":15},{"r":26,"i":36,"v":15},{"r":26,"i":37,"v":15},{"r":26,"i":38,"v":15},{"r":26,"i":39,"v":15},{"r":26,"i":40,"v":35},
{"r":27,"i":0,"v":65},{"r":27,"i":1,"v":65},{"r":27,"i":2,"v":65},{"r":27,"i":3,"v":65},{"r":27,"i":4,"v":65},{"r":27,"i":5,"v":65},{"r":27,"i":6,"v":65},{"r":27,"i":7,"v":65},{"r":27,"i":8,"v":95},{"r":27,"i":9,"v":95},{"r":27,"i":10,"v":95},{"r":27,"i":11,"v":85},{"r":27,"i":12,"v":65},{"r":27,"i":13,"v":65},{"r":27,"i":14,"v":55},{"r":27,"i":15,"v":55},{"r":27,"i":16,"v":55},{"r":27,"i":17,"v":55},{"r":27,"i":18,"v":55},{"r":27,"i":19,"v":55},{"r":27,"i":20,"v":55},{"r":27,"i":21,"v":45},{"r":27,"i":22,"v":45},{"r":27,"i":23,"v":45},{"r":27,"i":24,"v":45},{"r":27,"i":25,"v":55},{"r":27,"i":26,"v":75},{"r":27,"i":27,"v":65},{"r":27,"i":28,"v":15},{"r":27,"i":29,"v":15},{"r":27,"i":30,"v":15},{"r":27,"i":31,"v":15},{"r":27,"i":32,"v":15},{"r":27,"i":33,"v":15},{"r":27,"i":34,"v":15},{"r":27,"i":35,"v":15},{"r":27,"i":36,"v":15},{"r":27,"i":37,"v":35},{"r":27,"i":38,"v":35},{"r":27,"i":39,"v":35},{"r":27,"i":40,"v":35},
{"r":28,"i":0,"v":25},{"r":28,"i":1,"v":25},{"r":28,"i":2,"v":25},{"r":28,"i":3,"v":25},{"r":28,"i":4,"v":25},{"r":28,"i":5,"v":25},{"r":28,"i":6,"v":65},{"r":28,"i":7,"v":85},{"r":28,"i":8,"v":75},{"r":28,"i":9,"v":45},{"r":28,"i":10,"v":45},{"r":28,"i":11,"v":45},{"r":28,"i":12,"v":45},{"r":28,"i":13,"v":25},{"r":28,"i":14,"v":25},{"r":28,"i":15,"v":25},{"r":28,"i":16,"v":25},{"r":28,"i":17,"v":25},{"r":28,"i":18,"v":25},{"r":28,"i":19,"v":25},{"r":28,"i":20,"v":25},{"r":28,"i":21,"v":15},{"r":28,"i":22,"v":15},{"r":28,"i":23,"v":25},{"r":28,"i":24,"v":45},{"r":28,"i":25,"v":35},{"r":28,"i":26,"v":45},{"r":28,"i":27,"v":45},{"r":28,"i":28,"v":15},{"r":28,"i":29,"v":15},{"r":28,"i":30,"v":15},{"r":28,"i":31,"v":15},{"r":28,"i":32,"v":15},{"r":28,"i":33,"v":15},{"r":28,"i":34,"v":15},{"r":28,"i":35,"v":15},{"r":28,"i":36,"v":15},{"r":28,"i":37,"v":15},{"r":28,"i":38,"v":15},{"r":28,"i":39,"v":15},{"r":28,"i":40,"v":35},
{"r":29,"i":0,"v":65},{"r":29,"i":1,"v":65},{"r":29,"i":2,"v":65},{"r":29,"i":3,"v":65},{"r":29,"i":4,"v":65},{"r":29,"i":5,"v":55},{"r":29,"i":6,"v":65},{"r":29,"i":7,"v":75},{"r":29,"i":8,"v":95},{"r":29,"i":9,"v":95},{"r":29,"i":10,"v":85},{"r":29,"i":11,"v":85},{"r":29,"i":12,"v":75},{"r":29,"i":13,"v":65},{"r":29,"i":14,"v":45},{"r":29,"i":15,"v":45},{"r":29,"i":16,"v":45},{"r":29,"i":17,"v":55},{"r":29,"i":18,"v":55},{"r":29,"i":19,"v":45},{"r":29,"i":20,"v":45},{"r":29,"i":21,"v":45},{"r":29,"i":22,"v":45},{"r":29,"i":23,"v":55},{"r":29,"i":24,"v":55},{"r":29,"i":25,"v":65},{"r":29,"i":26,"v":75},{"r":29,"i":27,"v":65},{"r":29,"i":28,"v":15},{"r":29,"i":29,"v":15},{"r":29,"i":30,"v":15},{"r":29,"i":31,"v":15},{"r":29,"i":32,"v":15},{"r":29,"i":33,"v":15},{"r":29,"i":34,"v":15},{"r":29,"i":35,"v":15},{"r":29,"i":36,"v":15},{"r":29,"i":37,"v":15},{"r":29,"i":38,"v":15},{"r":29,"i":39,"v":25},{"r":29,"i":40,"v":35},
{"r":30,"i":0,"v":65},{"r":30,"i":1,"v":65},{"r":30,"i":2,"v":55},{"r":30,"i":3,"v":45},{"r":30,"i":4,"v":55},{"r":30,"i":5,"v":45},{"r":30,"i":6,"v":55},{"r":30,"i":7,"v":65},{"r":30,"i":8,"v":65},{"r":30,"i":9,"v":75},{"r":30,"i":10,"v":75},{"r":30,"i":11,"v":65},{"r":30,"i":12,"v":65},{"r":30,"i":13,"v":55},{"r":30,"i":14,"v":55},{"r":30,"i":15,"v":45},{"r":30,"i":16,"v":45},{"r":30,"i":17,"v":45},{"r":30,"i":18,"v":45},{"r":30,"i":19,"v":45},{"r":30,"i":20,"v":45},{"r":30,"i":21,"v":45},{"r":30,"i":22,"v":45},{"r":30,"i":23,"v":45},{"r":30,"i":24,"v":55},{"r":30,"i":25,"v":55},{"r":30,"i":26,"v":65},{"r":30,"i":27,"v":55},{"r":30,"i":28,"v":45},{"r":30,"i":29,"v":35},{"r":30,"i":30,"v":25},{"r":30,"i":31,"v":25},{"r":30,"i":32,"v":25},{"r":30,"i":33,"v":25},{"r":30,"i":34,"v":25},{"r":30,"i":35,"v":25},{"r":30,"i":36,"v":25},{"r":30,"i":37,"v":35},{"r":30,"i":38,"v":45},{"r":30,"i":39,"v":35},{"r":30,"i":40,"v":35},
{"r":31,"i":0,"v":35},{"r":31,"i":1,"v":35},{"r":31,"i":2,"v":35},{"r":31,"i":3,"v":35},{"r":31,"i":4,"v":35},{"r":31,"i":5,"v":35},{"r":31,"i":6,"v":35},{"r":31,"i":7,"v":65},{"r":31,"i":8,"v":75},{"r":31,"i":9,"v":85},{"r":31,"i":10,"v":85},{"r":31,"i":11,"v":75},{"r":31,"i":12,"v":65},{"r":31,"i":13,"v":55},{"r":31,"i":14,"v":55},{"r":31,"i":15,"v":45},{"r":31,"i":16,"v":35},{"r":31,"i":17,"v":35},{"r":31,"i":18,"v":35},{"r":31,"i":19,"v":35},{"r":31,"i":20,"v":25},{"r":31,"i":21,"v":25},{"r":31,"i":22,"v":25},{"r":31,"i":23,"v":25},{"r":31,"i":24,"v":35},{"r":31,"i":25,"v":35},{"r":31,"i":26,"v":45},{"r":31,"i":27,"v":35},{"r":31,"i":28,"v":25},{"r":31,"i":29,"v":15},{"r":31,"i":30,"v":15},{"r":31,"i":31,"v":15},{"r":31,"i":32,"v":15},{"r":31,"i":33,"v":15},{"r":31,"i":34,"v":15},{"r":31,"i":35,"v":15},{"r":31,"i":36,"v":15},{"r":31,"i":37,"v":15},{"r":31,"i":38,"v":15},{"r":31,"i":39,"v":25},{"r":31,"i":40,"v":35},
{"r":32,"i":0,"v":45},{"r":32,"i":1,"v":45},{"r":32,"i":2,"v":45},{"r":32,"i":3,"v":45},{"r":32,"i":4,"v":45},{"r":32,"i":5,"v":45},{"r":32,"i":6,"v":45},{"r":32,"i":7,"v":45},{"r":32,"i":8,"v":55},{"r":32,"i":9,"v":75},{"r":32,"i":10,"v":75},{"r":32,"i":11,"v":75},{"r":32,"i":12,"v":85},{"r":32,"i":13,"v":85},{"r":32,"i":14,"v":75},{"r":32,"i":15,"v":75},{"r":32,"i":16,"v":65},{"r":32,"i":17,"v":55},{"r":32,"i":18,"v":55},{"r":32,"i":19,"v":55},{"r":32,"i":20,"v":55},{"r":32,"i":21,"v":55},{"r":32,"i":22,"v":55},{"r":32,"i":23,"v":55},{"r":32,"i":24,"v":55},{"r":32,"i":25,"v":55},{"r":32,"i":26,"v":65},{"r":32,"i":27,"v":75},{"r":32,"i":28,"v":55},{"r":32,"i":29,"v":45},{"r":32,"i":30,"v":35},{"r":32,"i":31,"v":45},{"r":32,"i":32,"v":35},{"r":32,"i":33,"v":35},{"r":32,"i":34,"v":35},{"r":32,"i":35,"v":35},{"r":32,"i":36,"v":35},{"r":32,"i":37,"v":35},{"r":32,"i":38,"v":35},{"r":32,"i":39,"v":35},{"r":32,"i":40,"v":35},
{"r":33,"i":0,"v":45},{"r":33,"i":1,"v":45},{"r":33,"i":2,"v":45},{"r":33,"i":3,"v":35},{"r":33,"i":4,"v":35},{"r":33,"i":5,"v":35},{"r":33,"i":6,"v":35},{"r":33,"i":7,"v":45},{"r":33,"i":8,"v":55},{"r":33,"i":9,"v":65},{"r":33,"i":10,"v":85},{"r":33,"i":11,"v":85},{"r":33,"i":12,"v":85},{"r":33,"i":13,"v":75},{"r":33,"i":14,"v":75},{"r":33,"i":15,"v":75},{"r":33,"i":16,"v":75},{"r":33,"i":17,"v":55},{"r":33,"i":18,"v":45},{"r":33,"i":19,"v":45},{"r":33,"i":20,"v":45},{"r":33,"i":21,"v":45},{"r":33,"i":22,"v":45},{"r":33,"i":23,"v":45},{"r":33,"i":24,"v":45},{"r":33,"i":25,"v":55},{"r":33,"i":26,"v":55},{"r":33,"i":27,"v":65},{"r":33,"i":28,"v":55},{"r":33,"i":29,"v":55},{"r":33,"i":30,"v":15},{"r":33,"i":31,"v":15},{"r":33,"i":32,"v":15},{"r":33,"i":33,"v":15},{"r":33,"i":34,"v":15},{"r":33,"i":35,"v":15},{"r":33,"i":36,"v":15},{"r":33,"i":37,"v":15},{"r":33,"i":38,"v":15},{"r":33,"i":39,"v":15},{"r":33,"i":40,"v":35},
{"r":34,"i":0,"v":45},{"r":34,"i":1,"v":45},{"r":34,"i":2,"v":35},{"r":34,"i":3,"v":25},{"r":34,"i":4,"v":25},{"r":34,"i":5,"v":25},{"r":34,"i":6,"v":25},{"r":34,"i":7,"v":25},{"r":34,"i":8,"v":55},{"r":34,"i":9,"v":65},{"r":34,"i":10,"v":65},{"r":34,"i":11,"v":65},{"r":34,"i":12,"v":65},{"r":34,"i":13,"v":55},{"r":34,"i":14,"v":75},{"r":34,"i":15,"v":75},{"r":34,"i":16,"v":65},{"r":34,"i":17,"v":55},{"r":34,"i":18,"v":45},{"r":34,"i":19,"v":45},{"r":34,"i":20,"v":35},{"r":34,"i":21,"v":35},{"r":34,"i":22,"v":35},{"r":34,"i":23,"v":35},{"r":34,"i":24,"v":35},{"r":34,"i":25,"v":45},{"r":34,"i":26,"v":55},{"r":34,"i":27,"v":55},{"r":34,"i":28,"v":25},{"r":34,"i":29,"v":25},{"r":34,"i":30,"v":25},{"r":34,"i":31,"v":25},{"r":34,"i":32,"v":25},{"r":34,"i":33,"v":25},{"r":34,"i":34,"v":25},{"r":34,"i":35,"v":25},{"r":34,"i":36,"v":25},{"r":34,"i":37,"v":15},{"r":34,"i":38,"v":5},{"r":34,"i":39,"v":15},{"r":34,"i":40,"v":35},
{"r":35,"i":0,"v":45},{"r":35,"i":1,"v":45},{"r":35,"i":2,"v":45},{"r":35,"i":3,"v":45},{"r":35,"i":4,"v":45},{"r":35,"i":5,"v":45},{"r":35,"i":6,"v":45},{"r":35,"i":7,"v":65},{"r":35,"i":8,"v":75},{"r":35,"i":9,"v":75},{"r":35,"i":10,"v":75},{"r":35,"i":11,"v":75},{"r":35,"i":12,"v":85},{"r":35,"i":13,"v":85},{"r":35,"i":14,"v":85},{"r":35,"i":15,"v":75},{"r":35,"i":16,"v":65},{"r":35,"i":17,"v":35},{"r":35,"i":18,"v":35},{"r":35,"i":19,"v":25},{"r":35,"i":20,"v":25},{"r":35,"i":21,"v":25},{"r":35,"i":22,"v":25},{"r":35,"i":23,"v":25},{"r":35,"i":24,"v":35},{"r":35,"i":25,"v":65},{"r":35,"i":26,"v":75},{"r":35,"i":27,"v":35},{"r":35,"i":28,"v":15},{"r":35,"i":29,"v":15},{"r":35,"i":30,"v":15},{"r":35,"i":31,"v":15},{"r":35,"i":32,"v":15},{"r":35,"i":33,"v":15},{"r":35,"i":34,"v":35},{"r":35,"i":35,"v":35},{"r":35,"i":36,"v":35},{"r":35,"i":37,"v":35},{"r":35,"i":38,"v":35},{"r":35,"i":39,"v":35},{"r":35,"i":40,"v":35}
]},
"hconcat":[
{
"width":624,"height":719,
"view":{"fill":"white","stroke":null},
"data":{"name":"cells"},
"transform":[
{"lookup":"i","from":{"data":{"name":"dates"},"key":"i","fields":["d"]}},
{"lookup":"r","from":{"data":{"name":"states"},"key":"r","fields":["s"]}}
],
"mark":{"type":"rect","stroke":"#000","strokeWidth":1,"strokeOpacity":0.7},
"encoding":{
"x":{"field":"d","type":"ordinal","title":"Date","scale":{"paddingInner":0,"paddingOuter":1.17,"align":0.585},
"axis":{"values":["2021-01-01","2021-04-01","2021-07-01","2021-10-01","2022-01-01","2022-04-01","2022-07-01","2022-09-01"],"labelExpr":"utcFormat(toDate(datum.value), '%b%y')","labelAngle":270,"labelFontSize":18,"tickSize":12,"tickWidth":2,"domainWidth":2,"labelPadding":8,"offset":9,"titleFontSize":24,"titlePadding":6,"titleX":327,"labelOverlap":false}},
"y":{"field":"s","type":"nominal","title":null,"sort":{"field":"r","op":"min","order":"ascending"},"scale":{"paddingInner":0,"paddingOuter":0.803,"align":0.684},
"axis":{"domain":false,"labelFontSize":19,"tickSize":7,"tickWidth":1.5,"labelPadding":3,"offset":8,"labelLimit":500,"labelOverlap":false}},
"color":{"field":"v","type":"quantitative","scale":{"type":"threshold","domain":[10,20,30,40,50,60,70,80,90],"range":["#ffffff","#ffe3e3","#ffc6c6","#ffaaaa","#ff8e8e","#ff7171","#ff5555","#ff3939","#ff1c1c","#ff0000"]},"legend":null}
}
},
{
"width":27,"height":719,
"data":{"name":"bins"},
"mark":{"type":"rect","stroke":"#333","strokeWidth":1},
"encoding":{
"y":{"field":"lo","type":"quantitative","scale":{"domain":[-7.74,141.4],"nice":false,"zero":false},
"axis":{"orient":"right","values":[0,10,20,30,40,50,60,70,80,90,100],"domain":false,"tickSize":10,"tickWidth":1.5,"labelFontSize":19,"labelPadding":7,"title":"SI Value","titleAngle":0,"titleFontSize":23,"titleAlign":"center","titleBaseline":"alphabetic","titleX":6,"titleY":180}},
"y2":{"field":"hi"},
"color":{"field":"v","type":"quantitative","scale":{"type":"threshold","domain":[10,20,30,40,50,60,70,80,90],"range":["#ffffff","#ffe3e3","#ffc6c6","#ffaaaa","#ff8e8e","#ff7171","#ff5555","#ff3939","#ff1c1c","#ff0000"]},"legend":null}
}
}
]
}
